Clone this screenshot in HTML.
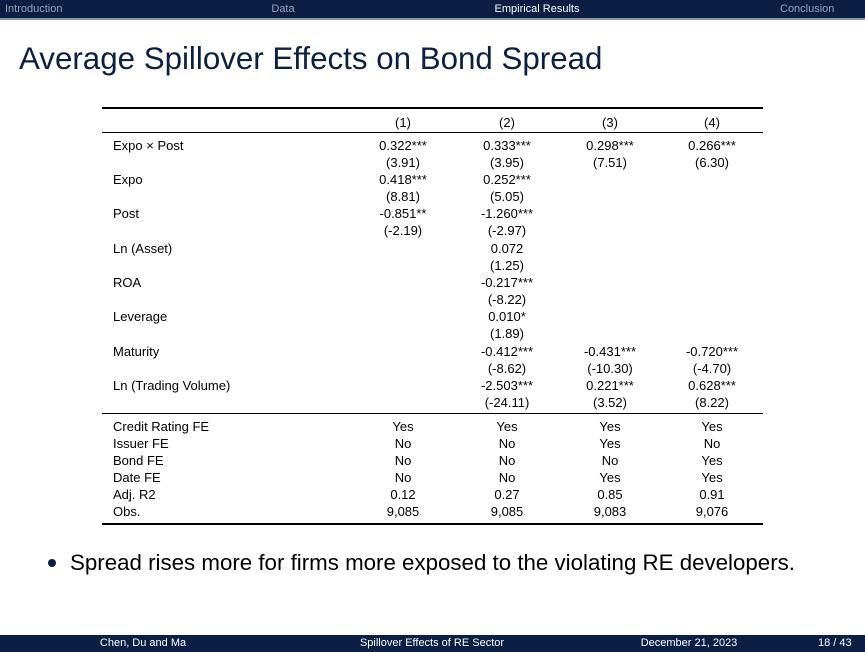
<!DOCTYPE html>
<html><head><style>
body{margin:0;width:865px;height:652px;background:#fff;position:relative;overflow:hidden;font-family:"Liberation Sans",sans-serif;color:#000}
.a{position:absolute;white-space:nowrap;line-height:16px;font-size:13px}
.c{transform:translateX(-50%)}
.rule{position:absolute;left:102px;width:661px;background:#000}
</style></head><body>
<div style="position:absolute;left:0;top:0;width:865px;height:18px;background:#0b1f45"></div>
<div style="position:absolute;left:0;top:18px;width:865px;height:2px;background:#8a94a8"></div>
<div class="a" style="left:5px;top:1px;font-size:11px;color:#9aa3b5">Introduction</div>
<div class="a c" style="left:283px;top:1px;font-size:11px;color:#9aa3b5">Data</div>
<div class="a c" style="left:537px;top:1px;font-size:11px;color:#fff">Empirical Results</div>
<div class="a" style="left:780px;top:1px;font-size:11px;color:#9aa3b5">Conclusion</div>
<div class="a" style="left:19px;top:41px;font-size:31.3px;line-height:36px;color:#0b1f45">Average Spillover Effects on Bond Spread</div>

<div class="rule" style="top:107px;height:2px"></div>
<div class="rule" style="top:132px;height:1px"></div>
<div class="rule" style="top:413px;height:1px"></div>
<div class="rule" style="top:523px;height:2px"></div>

<div class="a c" style="left:403px;top:115px">(1)</div>
<div class="a c" style="left:507px;top:115px">(2)</div>
<div class="a c" style="left:610px;top:115px">(3)</div>
<div class="a c" style="left:712px;top:115px">(4)</div>

<div class="a" style="left:113px;top:138px">Expo × Post</div>
<div class="a c" style="left:403px;top:138px">0.322***</div><div class="a c" style="left:507px;top:138px">0.333***</div><div class="a c" style="left:610px;top:138px">0.298***</div><div class="a c" style="left:712px;top:138px">0.266***</div>
<div class="a c" style="left:403px;top:155px">(3.91)</div><div class="a c" style="left:507px;top:155px">(3.95)</div><div class="a c" style="left:610px;top:155px">(7.51)</div><div class="a c" style="left:712px;top:155px">(6.30)</div>

<div class="a" style="left:113px;top:172px">Expo</div>
<div class="a c" style="left:403px;top:172px">0.418***</div><div class="a c" style="left:507px;top:172px">0.252***</div>
<div class="a c" style="left:403px;top:189px">(8.81)</div><div class="a c" style="left:507px;top:189px">(5.05)</div>

<div class="a" style="left:113px;top:206px">Post</div>
<div class="a c" style="left:403px;top:206px">-0.851**</div><div class="a c" style="left:507px;top:206px">-1.260***</div>
<div class="a c" style="left:403px;top:223px">(-2.19)</div><div class="a c" style="left:507px;top:223px">(-2.97)</div>

<div class="a" style="left:113px;top:241px">Ln (Asset)</div>
<div class="a c" style="left:507px;top:241px">0.072</div>
<div class="a c" style="left:507px;top:258px">(1.25)</div>

<div class="a" style="left:113px;top:275px">ROA</div>
<div class="a c" style="left:507px;top:275px">-0.217***</div>
<div class="a c" style="left:507px;top:292px">(-8.22)</div>

<div class="a" style="left:113px;top:309px">Leverage</div>
<div class="a c" style="left:507px;top:309px">0.010*</div>
<div class="a c" style="left:507px;top:326px">(1.89)</div>

<div class="a" style="left:113px;top:344px">Maturity</div>
<div class="a c" style="left:507px;top:344px">-0.412***</div><div class="a c" style="left:610px;top:344px">-0.431***</div><div class="a c" style="left:712px;top:344px">-0.720***</div>
<div class="a c" style="left:507px;top:361px">(-8.62)</div><div class="a c" style="left:610px;top:361px">(-10.30)</div><div class="a c" style="left:712px;top:361px">(-4.70)</div>

<div class="a" style="left:113px;top:378px">Ln (Trading Volume)</div>
<div class="a c" style="left:507px;top:378px">-2.503***</div><div class="a c" style="left:610px;top:378px">0.221***</div><div class="a c" style="left:712px;top:378px">0.628***</div>
<div class="a c" style="left:507px;top:395px">(-24.11)</div><div class="a c" style="left:610px;top:395px">(3.52)</div><div class="a c" style="left:712px;top:395px">(8.22)</div>

<div class="a" style="left:113px;top:419px">Credit Rating FE</div>
<div class="a c" style="left:403px;top:419px">Yes</div><div class="a c" style="left:507px;top:419px">Yes</div><div class="a c" style="left:610px;top:419px">Yes</div><div class="a c" style="left:712px;top:419px">Yes</div>
<div class="a" style="left:113px;top:436px">Issuer FE</div>
<div class="a c" style="left:403px;top:436px">No</div><div class="a c" style="left:507px;top:436px">No</div><div class="a c" style="left:610px;top:436px">Yes</div><div class="a c" style="left:712px;top:436px">No</div>
<div class="a" style="left:113px;top:453px">Bond FE</div>
<div class="a c" style="left:403px;top:453px">No</div><div class="a c" style="left:507px;top:453px">No</div><div class="a c" style="left:610px;top:453px">No</div><div class="a c" style="left:712px;top:453px">Yes</div>
<div class="a" style="left:113px;top:470px">Date FE</div>
<div class="a c" style="left:403px;top:470px">No</div><div class="a c" style="left:507px;top:470px">No</div><div class="a c" style="left:610px;top:470px">Yes</div><div class="a c" style="left:712px;top:470px">Yes</div>
<div class="a" style="left:113px;top:487px">Adj. R2</div>
<div class="a c" style="left:403px;top:487px">0.12</div><div class="a c" style="left:507px;top:487px">0.27</div><div class="a c" style="left:610px;top:487px">0.85</div><div class="a c" style="left:712px;top:487px">0.91</div>
<div class="a" style="left:113px;top:504px">Obs.</div>
<div class="a c" style="left:403px;top:504px">9,085</div><div class="a c" style="left:507px;top:504px">9,085</div><div class="a c" style="left:610px;top:504px">9,083</div><div class="a c" style="left:712px;top:504px">9,076</div>

<div style="position:absolute;left:48px;top:559px;width:8px;height:8px;border-radius:50%;background:#0b1f45"></div>
<div class="a" style="left:70px;top:549px;font-size:22.3px;line-height:28px">Spread rises more for firms more exposed to the violating RE developers.</div>

<div style="position:absolute;left:0;top:635px;width:865px;height:17px;background:#0b1f45"></div>
<div class="a c" style="left:143px;top:636px;font-size:11px;line-height:15px;color:#fff">Chen, Du and Ma</div>
<div class="a c" style="left:432px;top:636px;font-size:11px;line-height:15px;color:#fff">Spillover Effects of RE Sector</div>
<div class="a c" style="left:689px;top:636px;font-size:11px;line-height:15px;color:#fff">December 21, 2023</div>
<div class="a" style="left:818px;top:636px;font-size:11px;line-height:15px;color:#fff">18 / 43</div>
</body></html>
